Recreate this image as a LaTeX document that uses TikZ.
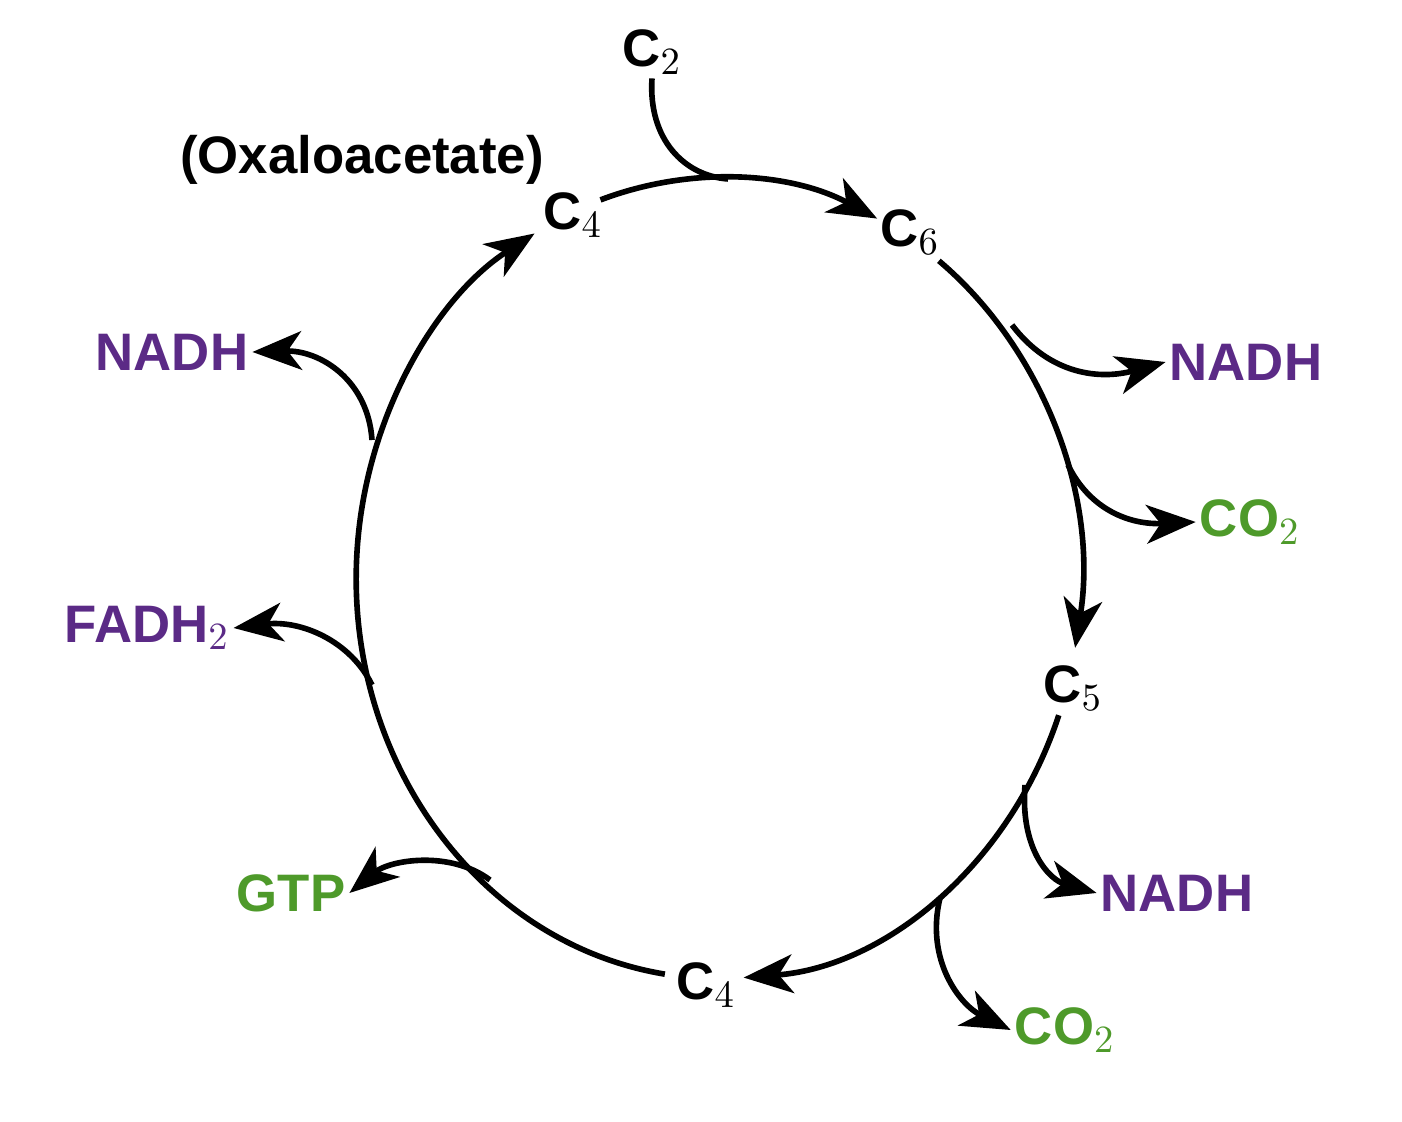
\documentclass[tikz,border=0pt]{standalone}
\usepackage{fontspec}
\setmainfont{Liberation Sans}
\usetikzlibrary{arrows.meta}
\definecolor{pur}{HTML}{5B2A86}
\definecolor{grn}{HTML}{4E9A2A}
\begin{document}
\begin{tikzpicture}[x=0.01cm,y=-0.01cm,
  lab/.style={font=\fontsize{15}{17}\selectfont\bfseries,inner sep=1pt},
  ln/.style={line width=1.6pt,-{Stealth[length=14pt,width=11pt,inset=4pt]}},
  pl/.style={line width=1.6pt}]
\useasboundingbox (0,0) rectangle (1402,1122);
\fill[white] (0,0) rectangle (1402,1122);
\node[lab] (c4t) at (573,215) {C$_4$};
\node[lab] (c6) at (910,232) {C$_6$};
\node[lab] (c5) at (1073,688) {C$_5$};
\node[lab] (c4b) at (706,985) {C$_4$};
\node[lab] (c2) at (652,52) {C$_2$};
\node[lab] (oxa) at (362,160) {(Oxaloacetate)};
\node[lab,text=pur] (n1) at (1246,362) {NADH};
\node[lab,text=grn] (o1) at (1250,522) {CO$_2$};
\node[lab,text=pur] (n2) at (1177,893) {NADH};
\node[lab,text=grn] (o2) at (1065,1030) {CO$_2$};
\node[lab,text=grn] (gtp) at (291,893) {GTP};
\node[lab,text=pur] (fad) at (147,628) {FADH$_2$};
\node[lab,text=pur] (n3) at (172,352) {NADH};
% ring (center 718,578; rx 362, ry 400)
\begin{scope}[x=1cm,y=1cm]
\draw[ln] ([shift={(109:3.62 and 4.0)}]7.18,-5.78) arc[start angle=109,end angle=64,x radius=3.62,y radius=4.0];
\draw[ln] ([shift={(52.5:3.62 and 4.0)}]7.18,-5.78) arc[start angle=52.5,end angle=-10,x radius=3.62,y radius=4.0];
\draw[ln] ([shift={(-20:3.62 and 4.0)}]7.18,-5.78) arc[start angle=-20,end angle=-86,x radius=3.62,y radius=4.0];
\draw[ln] ([shift={(261.5:3.62 and 4.0)}]7.18,-5.78) arc[start angle=261.5,end angle=120.5,x radius=3.62,y radius=4.0];
\end{scope}
\coordinate (j2) at (728,179);
\coordinate (jn1) at (1012,325);
\coordinate (jo1) at (1068,465);
\coordinate (jn2) at (1025,785);
\coordinate (jo2) at (940,898);
\coordinate (jg) at (490,880);
\coordinate (jf) at (372,685);
\coordinate (jn3) at (372,440);
\draw[pl] (c2.south) .. controls (648,140) and (685,176) .. (j2);
\draw[ln] (jn1) .. controls (1050,375) and (1100,380) .. (n1.west);
\draw[ln] (jo1) .. controls (1090,510) and (1130,525) .. (o1.west);
\draw[ln] (jn2) .. controls (1020,850) and (1050,880) .. (n2.west);
\draw[ln] (jo2) .. controls (925,960) and (960,1005) .. (o2.west);
\draw[ln] (jg) .. controls (450,850) and (390,860) .. (gtp.east);
\draw[ln] (jf) .. controls (350,640) and (300,620) .. (fad.east);
\draw[ln] (jn3) .. controls (368,380) and (320,350) .. (n3.east);
\end{tikzpicture}
\end{document}
